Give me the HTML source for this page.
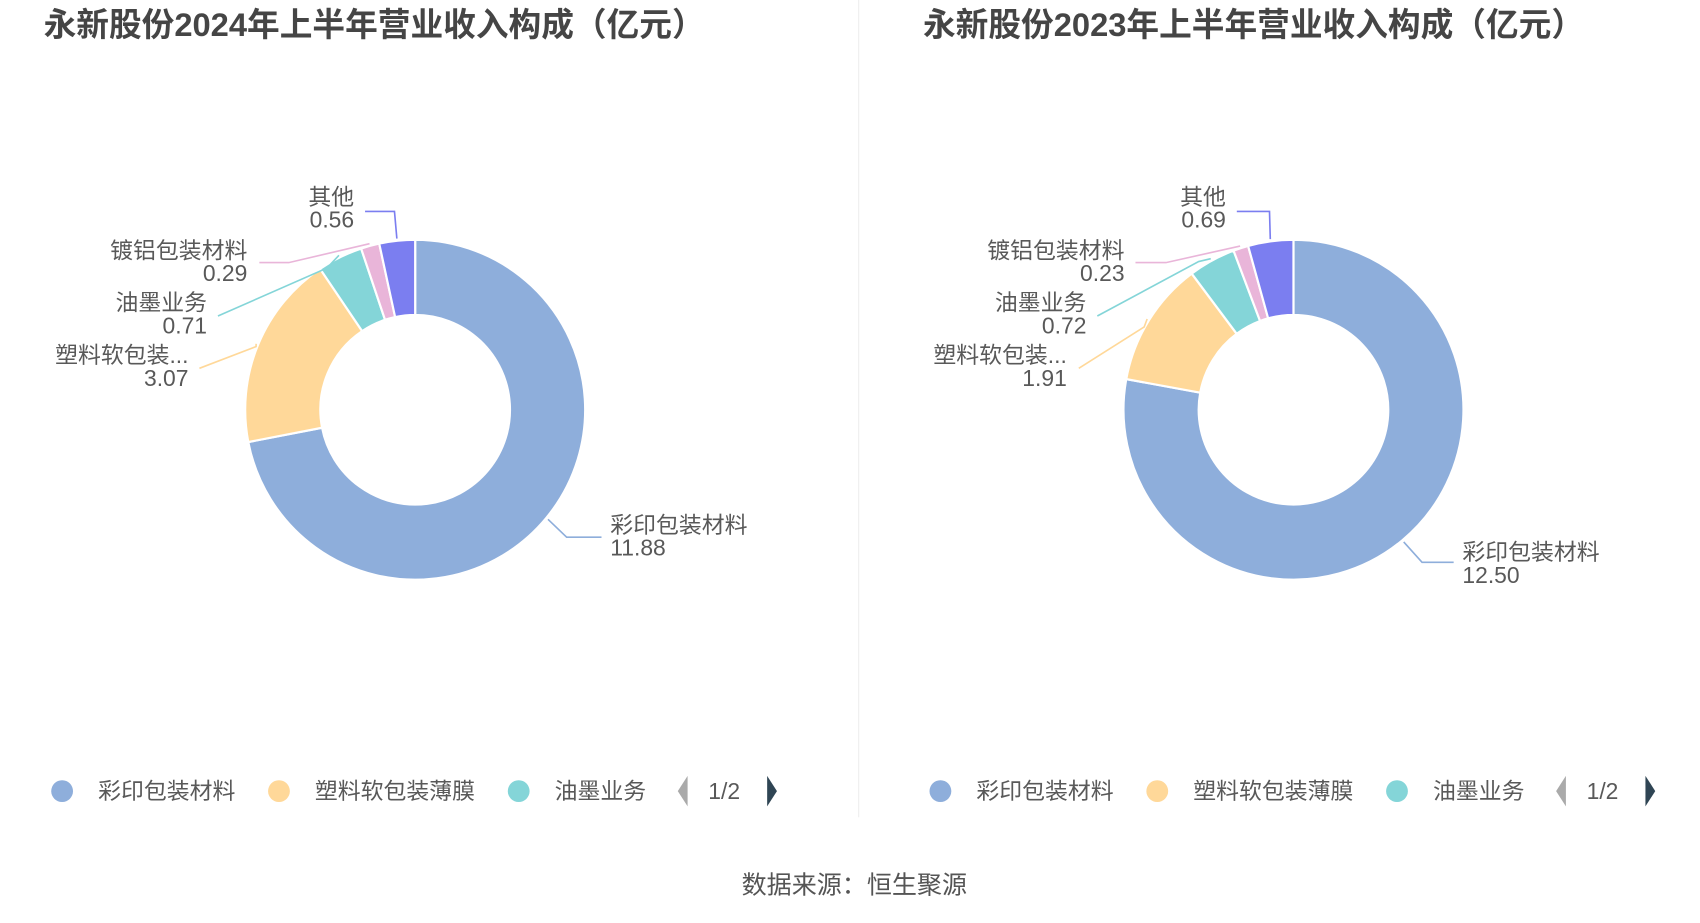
<!DOCTYPE html>
<html><head><meta charset="utf-8">
<style>
html,body{margin:0;padding:0;width:1700px;height:918px;overflow:hidden;background:#fff;}
#stage{position:absolute;left:0;top:0;width:1560px;height:842px;transform-origin:0 0;transform:scale(1.0897);font-family:"Liberation Sans","Noto Sans CJK SC",sans-serif;}
svg text{font-family:"Liberation Sans","Noto Sans CJK SC",sans-serif;}
</style></head>
<body>
<div id="stage">
<svg id="svg" width="1560" height="842" viewBox="0 0 1560 842">
  <line x1="788" y1="0" x2="788" y2="750" stroke="#eeeeee" stroke-width="1"/>
  <text x="40" y="33" font-size="30" font-weight="bold" fill="#454545">永新股份2024年上半年营业收入构成（亿元）</text>
  <text x="847" y="33" font-size="30" font-weight="bold" fill="#454545">永新股份2023年上半年营业收入构成（亿元）</text>
  <text x="784" y="820" font-size="23" fill="#555" text-anchor="middle">数据来源：恒生聚源</text>
</svg>
</div>
<script>
const categories = ["彩印包装材料","塑料软包装薄膜","油墨业务","镀铝包装材料","其他"];
const labelNames = ["彩印包装材料","塑料软包装...","油墨业务","镀铝包装材料","其他"];
const values2024 = [11.88,3.07,0.71,0.29,0.56];
const values2023 = [12.50,1.91,0.72,0.23,0.69];
const colors = ["#8eaedb","#ffd899","#84d5d8","#e9b5d9","#7b7ef0"];

const NS="http://www.w3.org/2000/svg";
const svg=document.getElementById('svg');
function mk(tag,attrs,parent){const e=document.createElementNS(NS,tag);for(const k in attrs)e.setAttribute(k,attrs[k]);(parent||svg).appendChild(e);return e;}

function pt(cx,cy,r,a){return [cx+r*Math.sin(a),cy-r*Math.cos(a)];}

// label layout per chart: [elbow x, elbow y, end x, end y, text x, name y, anchor]
const layouts = {
  left:[[520,493,552,493,560,489,"start"],[235,318,183,338,173,333,"end"],[300,246,200,290,190,285,"end"],[265,241,238,241,227,237,"end"],[362,194,335,194,325,188,"end"]],
  right:[[1305,516,1334,516,1342,514,"start"],[1050,300,990,338,979,333,"end"],[1100,240,1007,290,997,285,"end"],[1070,241,1042,241,1032,237,"end"],[1165,194,1135,194,1125,188,"end"]]
};

function donut(cx,values,side,legendX){
  const cy=376,R=156,r=87;
  const total=values.reduce((a,b)=>a+b,0);
  const g=mk('g',{});
  
  
  let a0=0;
  values.forEach((v,i)=>{
    const a1=a0+v/total*2*Math.PI;
    const large=(a1-a0)>Math.PI?1:0;
    const p1=pt(cx,cy,R,a0),p2=pt(cx,cy,R,a1),p3=pt(cx,cy,r,a1),p4=pt(cx,cy,r,a0);
    const d=`M${p1[0]},${p1[1]}A${R},${R} 0 ${large} 1 ${p2[0]},${p2[1]}L${p3[0]},${p3[1]}A${r},${r} 0 ${large} 0 ${p4[0]},${p4[1]}Z`;
    const s=mk('path',{d:d,fill:colors[i],stroke:'#fff','stroke-width':2},g);
    
    
    const am=(a0+a1)/2;
    const ps=pt(cx,cy,R+2,am);
    const L=layouts[side][i];
    const ln=mk('polyline',{points:`${ps[0]},${ps[1]} ${L[0]},${L[1]} ${L[2]},${L[3]}`,fill:'none',stroke:colors[i],'stroke-width':1.5},g);
    
    
    const t1=mk('text',{x:L[4],y:L[5],'font-size':21,fill:'#595959','text-anchor':L[6]},g);
    t1.textContent=labelNames[i];
    
    
    const t2=mk('text',{x:L[4],y:L[5]+21,'font-size':21,fill:'#595959','text-anchor':L[6]},g);
    t2.textContent=v.toFixed(2);
    
    
    a0=a1;
  });
  // legend
  const lg=mk('g',{});
  
  
  const offs=[0,199,419];
  for(let i=0;i<3;i++){
    const x=legendX+offs[i];
    const it=mk('g',{},lg);
    
    
    mk('circle',{cx:x,cy:726,r:10,fill:colors[i]},it);
    const t=mk('text',{x:x+33,y:733,'font-size':21,fill:'#595959'},it);
    t.textContent=categories[i];
  }
  const px=legendX+565;
  const pl=mk('polygon',{points:`${px},726 ${px+9},712 ${px+9},740`,fill:'#aaaaaa'},lg);
  
  
  const pg=mk('text',{x:px+28,y:733,'font-size':21,fill:'#595959'},lg);
  pg.textContent='1/2';
  
  
  const pn=mk('polygon',{points:`${px+82},712 ${px+91},726 ${px+82},740`,fill:'#2f4554'},lg);
  
  
}
donut(381,values2024,'left',57);
donut(1187,values2023,'right',863);
</script>
</body></html>
